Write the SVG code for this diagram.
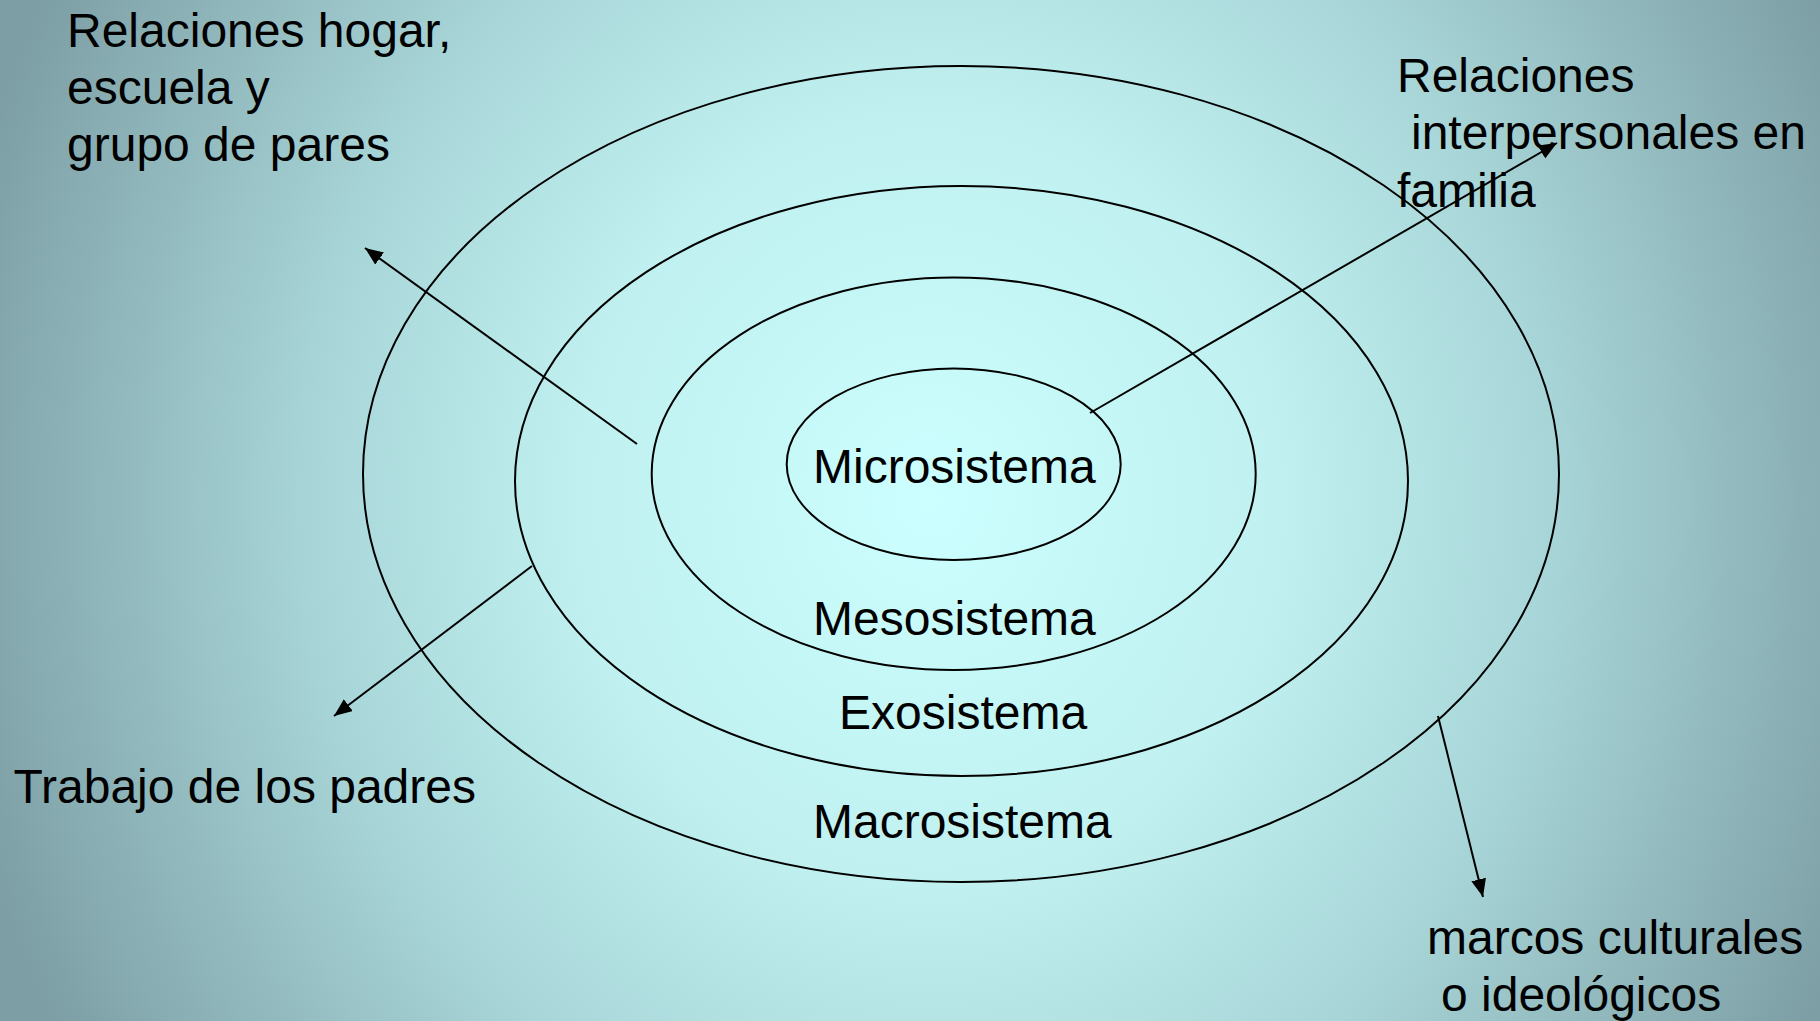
<svg xmlns="http://www.w3.org/2000/svg" width="1820" height="1021" viewBox="0 0 1820 1021">
<style>
.ring{fill:none;stroke:#000;stroke-width:2}
.conn{stroke:#000;stroke-width:2;fill:none}
text{font-family:"Liberation Sans",Arial,sans-serif;font-size:48px;fill:#000}
</style>
<defs>
<radialGradient id="bg" gradientUnits="userSpaceOnUse" cx="930" cy="500" r="1000" gradientTransform="translate(930 500) scale(1 1.1) translate(-930 -500)">
<stop offset="0" stop-color="#ccffff"/>
<stop offset="0.35" stop-color="#c0f0f0"/>
<stop offset="0.6" stop-color="#aad8da"/>
<stop offset="1" stop-color="#7c9ea4"/>
</radialGradient>
<marker id="arr" markerUnits="userSpaceOnUse" markerWidth="20" markerHeight="16" refX="18" refY="7.5" orient="auto">
<path d="M0,0 L18,7.5 L0,15 z" fill="#000"/>
</marker>
</defs>
<rect width="1820" height="1021" fill="url(#bg)"/>
<g id="macrosistema">
<ellipse class="ring" cx="961" cy="474" rx="598" ry="408"/>
<text x="813" y="838">Macrosistema</text>
</g>
<g id="exosistema">
<ellipse class="ring" cx="961.5" cy="481" rx="446.5" ry="295"/>
<text x="839" y="729">Exosistema</text>
</g>
<g id="mesosistema">
<ellipse class="ring" cx="953.7" cy="473.7" rx="302" ry="196.3"/>
<text x="813" y="635">Mesosistema</text>
</g>
<g id="microsistema">
<ellipse class="ring" cx="953.7" cy="464.2" rx="167" ry="95.8"/>
<text x="813" y="482.7">Microsistema</text>
</g>
<g id="label-hogar">
<text x="67" y="46.7">Relaciones hogar,</text>
<text x="67" y="104">escuela y</text>
<text x="67" y="161">grupo de pares</text>
</g>
<g id="label-familia">
<text x="1397" y="91.7">Relaciones</text>
<text x="1411" y="149">interpersonales en</text>
<text x="1397" y="206.7">familia</text>
</g>
<g id="label-trabajo">
<text x="13.5" y="803">Trabajo de los padres</text>
</g>
<g id="label-marcos">
<text x="1427" y="954">marcos culturales</text>
<text x="1441" y="1011">o ideológicos</text>
</g>
<g id="connectors">
<line class="conn" x1="637" y1="444" x2="365" y2="248" marker-end="url(#arr)"/>
<line class="conn" x1="1090" y1="413" x2="1557" y2="143" marker-end="url(#arr)"/>
<line class="conn" x1="532" y1="566" x2="334" y2="716" marker-end="url(#arr)"/>
<line class="conn" x1="1438" y1="716" x2="1483" y2="897" marker-end="url(#arr)"/>
</g>
</svg>
